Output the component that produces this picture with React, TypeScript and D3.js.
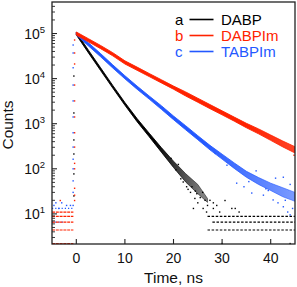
import React from 'react';
import * as d3 from 'd3';

// time axis samples (ns) for the decay bands
const decayTimes = [0, 2.5, 5, 7.5, 10, 12.5, 15, 17.5, 20, 22.5, 25, 27.5, 30, 32.5, 35, 37.5, 40, 42.5, 45];
const dabpTimes = [0, 2.5, 5, 7.5, 10, 12.5, 15, 17.5, 20, 22.5, 25, 27];

// band envelopes (counts)
const dabpLo = [93300, 37200, 15100, 6170, 2570, 1110, 513, 234, 107, 51, 28, 18];
const dabpHi = [107000, 42700, 17400, 7080, 2950, 1300, 617, 295, 148, 78, 45, 22];
const dabpimLo = [92300, 65300, 46200, 32000, 21100, 15300, 11100, 8040, 5820, 4120, 2990, 2160, 1570, 1140, 813, 596, 427, 305, 224];
const dabpimHi = [108000, 76700, 54300, 37600, 24800, 18000, 13000, 9440, 6840, 5070, 3670, 2660, 1930, 1400, 1020, 767, 562, 412, 309];
const tabpimLo = [93300, 53100, 30500, 17200, 9890, 5820, 3510, 2090, 1230, 733, 442, 263, 164, 102, 65, 45, 33, 24, 19];
const tabpimHi = [107000, 62400, 35900, 20200, 11600, 6840, 4120, 2510, 1480, 902, 543, 331, 211, 135, 88, 64, 48, 38, 30];

// rising edge points (counts)
const dabpRise = [11400, 1730, 436, 213, 77, 25];
const dabpimRise = [71800, 37000, 21100, 7200, 3200, 1410, 630, 303, 132, 100, 37, 26, 19.8];
const tabpimRise = [55600, 37000, 17400, 7200, 3200, 1410, 630, 303, 163, 100, 54, 30, 15.4];

// scattered tail points [t, counts]
const dabpTail: [number, number][] = [
  [19.5, 170], [20.5, 95], [21.0, 125], [21.5, 60], [22.0, 51], [22.7, 40], [23.0, 35], [23.5, 30],
  [23.8, 40], [24.5, 32], [24.8, 28], [24.4, 22], [25.5, 23], [26.0, 30],
  [26.5, 20], [27.5, 20], [30.6, 19.8], [28.9, 15.4], [28.2, 17.6], [25.0, 17.6], [27.0, 15.4],
  [24.1, 13.2], [26.1, 13.2], [28.2, 13.2], [32.0, 13.2], [32.7, 13.2], [26.8, 11], [29.5, 11],
  [33.5, 11], [30.0, 2.2], [44.0, 2.2],
];
const tabpimTail: [number, number][] = [
  [42.6, 65], [40.5, 20.4], [42.6, 14.4], [44.0, 9.5], [36.1, 29], [38.5, 26], [44.5, 13.2],
  [41.5, 17.6], [34.5, 40], [33.0, 48], [43.5, 11], [28.6, 219], [39.5, 33], [37.0, 90],
  [41.0, 62], [44.0, 45], [31.0, 120], [35.5, 52], [43.0, 20], [39.0, 36],
];
const dabpimTail: [number, number][] = [[44.8, 200], [-3.3, 19.8]];
const tabpimPre: [number, number][] = [[-4.2, 17.6], [-3.0, 17.6], [-2.0, 15.4], [-4.6, 15.4], [-1.2, 15.4], [-3.6, 13.2]];

// background count levels [counts, tStart, tEnd]
const dabpFloor: [number, number, number][] = [[8.8, 27, 45], [6.6, 28, 45], [4.4, 27, 45]];
const dabpimFloor: [number, number, number][] = [[11, -5, -0.6], [8.8, -5, -0.6], [6.6, -5, -0.6], [4.4, -5, -0.6], [2.2, -5, -0.6]];
const tabpimFloor: [number, number, number][] = [[13.2, -5, -0.8], [6.6, -5, -2.5]];

const legendLetters = ['a', 'b', 'c'];
const legendNames = ['DABP', 'DABPIm', 'TABPIm'];
const colors = ['#000000', '#ff2200', '#2358ff'];

const xTicks = [0, 10, 20, 30, 40];
const yExps = [1, 2, 3, 4, 5];

const font = '"Liberation Sans", Arial, sans-serif';

export default function App() {
  const x = d3.scaleLinear().domain([-5, 45]).range([52, 295]);
  const y = d3.scaleLog().domain([2.15, 5e5]).range([244, 2]);

  const band = (ts: number[], lo: number[], hi: number[]) =>
    d3.area<number>()
      .x((_, i) => x(ts[i]))
      .y0((_, i) => y(lo[i]))
      .y1((_, i) => y(hi[i]))(lo) || '';

  const minor: number[] = [];
  for (let e = 0; e <= 5; e++) {
    for (let m = 2; m <= 9; m++) {
      const v = m * Math.pow(10, e);
      if (v > 2.15 && v < 5e5) minor.push(v);
    }
  }

  const series = [
    { id: 'k', ts: dabpTimes, lo: dabpLo, hi: dabpHi, rise: dabpRise, riseT: -0.5, tail: dabpTail, floor: dabpFloor, c: colors[0], fade: [16, 26, 0.5] },
    { id: 'b', ts: decayTimes, lo: tabpimLo, hi: tabpimHi, rise: tabpimRise, riseT: -0.65, tail: [...tabpimTail, ...tabpimPre], floor: tabpimFloor, c: colors[2], fade: [26, 45, 0.6] },
    { id: 'r', ts: decayTimes, lo: dabpimLo, hi: dabpimHi, rise: dabpimRise, riseT: -0.35, tail: dabpimTail, floor: dabpimFloor, c: colors[1], fade: [35, 45, 0.85] },
  ];

  return (
    <div style={{ position: 'fixed', left: 0, top: 0 }}>
      <svg width={297} height={287} style={{ display: 'block' }} fontFamily={font}>
        <rect width={297} height={287} fill="#fff" />
        <defs>
          <clipPath id="plot">
            <rect x={52} y={2} width={243} height={242.5} />
          </clipPath>
          {series.map((s) => (
            <linearGradient key={s.id} id={'g' + s.id} gradientUnits="userSpaceOnUse"
              x1={x(s.fade[0])} x2={x(s.fade[1])} y1={0} y2={0}>
              <stop offset="0" stopColor={s.c} stopOpacity={1} />
              <stop offset="1" stopColor={s.c} stopOpacity={s.fade[2]} />
            </linearGradient>
          ))}
        </defs>
        <g clipPath="url(#plot)">
          {series.map((s, si) => (
            <g key={si}>
              {s.floor.map(([v, t0, t1], i) => (
                <line key={'f' + i} x1={x(t0)} x2={x(t1)} y1={y(v)} y2={y(v)} stroke={s.c}
                  strokeWidth={1.2} strokeDasharray={si === 0 ? '2.5 1.6' : si === 1 ? '1.2 2' : '3 0.8'} />
              ))}
              <path d={band(s.ts, s.lo, s.hi)} fill={`url(#g${s.id})`} stroke={`url(#g${s.id})`} strokeWidth={0.9} />
              {s.rise.map((v, i) => (
                <rect key={'r' + i} x={x(s.riseT) - 0.7} y={y(v) - 0.7} width={1.4} height={1.4} fill={s.c} />
              ))}
              {s.tail.map(([t, v], i) => (
                <rect key={'t' + i} x={x(t) - 0.7} y={y(v) - 0.7} width={1.4} height={1.4} fill={s.c} />
              ))}
            </g>
          ))}
        </g>

        {/* frame */}
        <rect x={52} y={2} width={243} height={242} fill="none" stroke="#222" strokeWidth={1.3} />

        {/* y ticks */}
        {minor.map((v) => (
          <line key={'m' + v} x1={52} x2={55} y1={y(v)} y2={y(v)} stroke="#222" strokeWidth={0.9} />
        ))}
        {yExps.map((e) => (
          <g key={'y' + e}>
            <line x1={52} x2={57} y1={y(Math.pow(10, e))} y2={y(Math.pow(10, e))} stroke="#222" strokeWidth={1.1} />
            <text x={45} y={y(Math.pow(10, e)) + 5} textAnchor="end" fontSize={14} fill="#111">
              10<tspan dy={-6} fontSize={9.5}>{e}</tspan>
            </text>
          </g>
        ))}

        {/* x ticks */}
        {xTicks.map((t) => (
          <g key={'x' + t}>
            <line x1={x(t)} x2={x(t)} y1={244} y2={239} stroke="#222" strokeWidth={1.1} />
            <text x={x(t)} y={263} textAnchor="middle" fontSize={14} fill="#111">{t}</text>
          </g>
        ))}

        <text x={173.5} y={283} textAnchor="middle" fontSize={15.5} fill="#111">Time, ns</text>
        <text transform="translate(13,125) rotate(-90)" textAnchor="middle" fontSize={15.5} fill="#111">Counts</text>

        {/* legend */}
        {legendNames.map((n, i) => {
          const c = colors[i];
          const by = 25 + i * 16;
          return (
            <g key={n}>
              <text x={175} y={by} fontSize={15} fill={c}>{legendLetters[i]}</text>
              <line x1={189.5} x2={213.5} y1={by - 5.5} y2={by - 5.5} stroke={c} strokeWidth={1.6} />
              <text x={221} y={by} fontSize={15} fill={c}>{n}</text>
            </g>
          );
        })}
      </svg>
    </div>
  );
}
